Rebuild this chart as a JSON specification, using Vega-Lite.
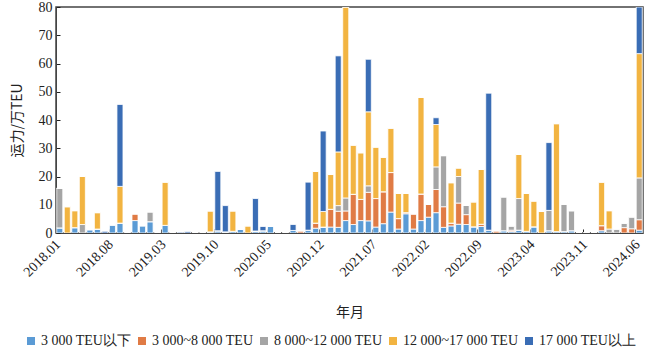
{
  "$schema": "https://vega.github.io/schema/vega-lite/v6.json",
  "autosize": "none",
  "width": 587,
  "height": 226,
  "padding": {"left": 56, "top": 7, "right": 5, "bottom": 120},
  "background": "white",
  "config": {
    "view": {"stroke": "#444444", "strokeWidth": 1.5},
    "font": "Liberation Serif",
    "axis": {"labelFont": "Liberation Serif", "titleFont": "Noto Sans CJK SC", "labelColor": "#222222", "titleColor": "#222222", "titleFontWeight": "normal", "grid": false, "tickColor": "#222222", "domainColor": "#444444"},
    "legend": {"labelFont": "Liberation Serif", "labelColor": "#222222"}
  },
  "data": {
    "values": [
      {"month": "2018.01", "a": 1.8, "b": 0, "c": 14, "d": 0, "e": 0},
      {"month": "2018.02", "a": 0, "b": 0, "c": 0, "d": 9.3, "e": 0},
      {"month": "2018.03", "a": 1.9, "b": 0, "c": 0, "d": 6, "e": 0},
      {"month": "2018.04", "a": 0, "b": 0, "c": 3, "d": 17, "e": 0},
      {"month": "2018.05", "a": 1.2, "b": 0, "c": 0, "d": 0, "e": 0},
      {"month": "2018.06", "a": 1.4, "b": 0, "c": 0, "d": 5.8, "e": 0},
      {"month": "2018.07", "a": 0, "b": 0, "c": 0, "d": 0, "e": 0.6},
      {"month": "2018.08", "a": 2.9, "b": 0, "c": 0, "d": 0, "e": 0},
      {"month": "2018.09", "a": 3.5, "b": 0, "c": 0, "d": 13, "e": 29},
      {"month": "2018.10", "a": 0, "b": 0, "c": 0, "d": 0, "e": 0},
      {"month": "2018.11", "a": 4.4, "b": 2.4, "c": 0, "d": 0, "e": 0},
      {"month": "2018.12", "a": 2.6, "b": 0, "c": 0, "d": 0, "e": 0},
      {"month": "2019.01", "a": 4, "b": 0, "c": 3.5, "d": 0, "e": 0},
      {"month": "2019.02", "a": 0, "b": 0, "c": 0, "d": 0, "e": 0},
      {"month": "2019.03", "a": 2.7, "b": 0, "c": 0, "d": 15.3, "e": 0},
      {"month": "2019.04", "a": 0, "b": 0, "c": 0, "d": 0, "e": 0},
      {"month": "2019.05", "a": 0, "b": 0, "c": 0, "d": 0, "e": 0.3},
      {"month": "2019.06", "a": 0, "b": 0, "c": 0, "d": 0, "e": 0.5},
      {"month": "2019.07", "a": 0, "b": 0, "c": 0, "d": 0, "e": 0},
      {"month": "2019.08", "a": 0, "b": 0, "c": 0, "d": 0, "e": 0},
      {"month": "2019.09", "a": 0.4, "b": 0, "c": 0, "d": 7.4, "e": 0},
      {"month": "2019.10", "a": 0.8, "b": 0, "c": 0, "d": 0, "e": 21},
      {"month": "2019.11", "a": 0.4, "b": 0, "c": 0, "d": 0, "e": 9.3},
      {"month": "2019.12", "a": 0.6, "b": 0, "c": 0, "d": 7.2, "e": 0},
      {"month": "2020.01", "a": 1.3, "b": 0, "c": 0, "d": 0, "e": 0},
      {"month": "2020.02", "a": 0, "b": 0, "c": 0, "d": 2.5, "e": 0},
      {"month": "2020.03", "a": 0.7, "b": 0, "c": 0, "d": 0, "e": 11.5},
      {"month": "2020.04", "a": 0.8, "b": 0, "c": 0, "d": 0, "e": 1.5},
      {"month": "2020.05", "a": 2.3, "b": 0, "c": 0, "d": 0, "e": 0},
      {"month": "2020.06", "a": 0, "b": 0, "c": 0, "d": 0, "e": 0},
      {"month": "2020.07", "a": 0, "b": 0, "c": 0, "d": 0, "e": 0},
      {"month": "2020.08", "a": 0.9, "b": 0, "c": 0, "d": 0, "e": 2.1},
      {"month": "2020.09", "a": 0, "b": 0.8, "c": 0, "d": 0, "e": 0},
      {"month": "2020.10", "a": 1, "b": 0, "c": 0, "d": 0, "e": 17},
      {"month": "2020.11", "a": 1.7, "b": 1.8, "c": 0, "d": 18.3, "e": 0},
      {"month": "2020.12", "a": 2.1, "b": 0, "c": 0, "d": 5.5, "e": 28.5},
      {"month": "2021.01", "a": 2.1, "b": 6.3, "c": 0, "d": 12.3, "e": 0},
      {"month": "2021.02", "a": 2, "b": 5.7, "c": 2, "d": 19, "e": 34},
      {"month": "2021.03", "a": 4.4, "b": 3.4, "c": 4.6, "d": 67.6, "e": 0},
      {"month": "2021.04", "a": 3, "b": 10.7, "c": 0, "d": 17.4, "e": 0},
      {"month": "2021.05", "a": 4.4, "b": 7.5, "c": 0, "d": 16.5, "e": 0},
      {"month": "2021.06", "a": 4.3, "b": 10.1, "c": 2.3, "d": 26.2, "e": 18.6},
      {"month": "2021.07", "a": 2.1, "b": 10.1, "c": 0, "d": 18.2, "e": 0},
      {"month": "2021.08", "a": 3.3, "b": 11.3, "c": 0, "d": 12.2, "e": 0},
      {"month": "2021.09", "a": 7.4, "b": 14, "c": 0, "d": 15.7, "e": 0},
      {"month": "2021.10", "a": 1.4, "b": 3.7, "c": 0, "d": 8.9, "e": 0},
      {"month": "2021.11", "a": 6.8, "b": 0.4, "c": 0, "d": 6.8, "e": 0},
      {"month": "2021.12", "a": 1.4, "b": 5.4, "c": 0, "d": 0, "e": 0},
      {"month": "2022.01", "a": 4.4, "b": 9.4, "c": 0, "d": 34.2, "e": 0},
      {"month": "2022.02", "a": 5.6, "b": 4.6, "c": 0, "d": 0, "e": 0},
      {"month": "2022.03", "a": 7.2, "b": 8.2, "c": 8, "d": 15, "e": 2.4},
      {"month": "2022.04", "a": 2, "b": 7.3, "c": 18.1, "d": 0, "e": 0},
      {"month": "2022.05", "a": 2.5, "b": 1, "c": 0, "d": 14.3, "e": 0},
      {"month": "2022.06", "a": 3.1, "b": 7.5, "c": 9.4, "d": 3, "e": 0},
      {"month": "2022.07", "a": 3, "b": 3.5, "c": 3.3, "d": 0, "e": 0},
      {"month": "2022.08", "a": 2.2, "b": 0, "c": 0, "d": 8.8, "e": 0},
      {"month": "2022.09", "a": 2.3, "b": 0.8, "c": 0, "d": 19.4, "e": 0},
      {"month": "2022.10", "a": 1, "b": 0, "c": 0, "d": 0, "e": 48.5},
      {"month": "2022.11", "a": 0, "b": 0.8, "c": 0, "d": 0, "e": 0},
      {"month": "2022.12", "a": 0.8, "b": 0, "c": 12, "d": 0, "e": 0},
      {"month": "2023.01", "a": 0.5, "b": 0.5, "c": 1.5, "d": 0, "e": 0},
      {"month": "2023.02", "a": 1, "b": 0, "c": 11.2, "d": 15.6, "e": 0},
      {"month": "2023.03", "a": 0.6, "b": 0, "c": 0, "d": 13.4, "e": 0},
      {"month": "2023.04", "a": 2.2, "b": 0, "c": 0, "d": 9.1, "e": 0},
      {"month": "2023.05", "a": 0, "b": 0, "c": 0, "d": 7.6, "e": 0},
      {"month": "2023.06", "a": 0.8, "b": 0, "c": 7.2, "d": 0, "e": 24},
      {"month": "2023.07", "a": 0.5, "b": 0, "c": 0, "d": 38.2, "e": 0},
      {"month": "2023.08", "a": 0.5, "b": 0, "c": 9.7, "d": 0, "e": 0},
      {"month": "2023.09", "a": 0.8, "b": 0, "c": 7.1, "d": 0, "e": 0},
      {"month": "2023.10", "a": 0, "b": 0, "c": 0, "d": 0, "e": 0},
      {"month": "2023.11", "a": 0, "b": 0, "c": 0, "d": 0, "e": 0},
      {"month": "2023.12", "a": 0, "b": 0, "c": 0, "d": 0, "e": 0},
      {"month": "2024.01", "a": 0.8, "b": 1.8, "c": 0, "d": 15.4, "e": 0},
      {"month": "2024.02", "a": 0, "b": 0, "c": 1.4, "d": 6.5, "e": 0},
      {"month": "2024.03", "a": 0, "b": 0, "c": 1.4, "d": 0, "e": 0},
      {"month": "2024.04", "a": 0, "b": 1.9, "c": 1.6, "d": 0, "e": 0},
      {"month": "2024.05", "a": 0, "b": 1.5, "c": 4.2, "d": 0, "e": 0},
      {"month": "2024.06", "a": 1, "b": 3.7, "c": 14.8, "d": 44, "e": 16.5}
    ]
  },
  "transform": [
    {"fold": ["a", "b", "c", "d", "e"], "as": ["type", "cap"]}
  ],
  "mark": {"type": "bar", "stroke": "white", "strokeWidth": 0.8, "clip": true},
  "encoding": {
    "x": {
      "field": "month",
      "type": "ordinal",
      "scale": {"paddingInner": 0.2, "paddingOuter": 0.1},
      "axis": {
        "values": ["2018.01", "2018.08", "2019.03", "2019.10", "2020.05", "2020.12", "2021.07", "2022.02", "2022.09", "2023.04", "2023.11", "2024.06"],
        "labelAngle": -45,
        "labelFont": "Liberation Serif",
        "labelFontSize": 14,
        "labelOffset": -3,
        "tickSize": -4,
        "tickOffset": -3.75,
        "labelPadding": 8,
        "title": "年月",
        "titleFontSize": 14,
        "titlePadding": 26
      }
    },
    "y": {
      "field": "cap",
      "type": "quantitative",
      "stack": "zero",
      "scale": {"domain": [0, 80], "nice": false},
      "axis": {
        "values": [0, 10, 20, 30, 40, 50, 60, 70, 80],
        "labelFont": "Liberation Serif",
        "labelFontSize": 14,
        "tickSize": -4,
        "labelPadding": 8,
        "title": "运力/万TEU",
        "titleFontSize": 14,
        "titlePadding": 14
      }
    },
    "color": {
      "field": "type",
      "type": "nominal",
      "scale": {"domain": ["a", "b", "c", "d", "e"], "range": ["#5B9BD5", "#E07B45", "#A5A5A5", "#F2B441", "#3A6DB5"]},
      "legend": {
        "title": null,
        "orient": "none",
        "direction": "horizontal",
        "columns": 5,
        "legendX": -32,
        "legendY": 327,
        "symbolType": "square",
        "symbolSize": 64,
        "symbolStrokeWidth": 0,
        "labelFont": "Liberation Serif",
        "labelFontSize": 14,
        "columnPadding": 3,
        "labelOffset": 3,
        "labelExpr": "{'a': '3 000 TEU以下', 'b': '3 000~8 000 TEU', 'c': '8 000~12 000 TEU', 'd': '12 000~17 000 TEU', 'e': '17 000 TEU以上'}[datum.value]"
      }
    },
    "order": {"field": "type", "sort": "ascending"}
  }
}
